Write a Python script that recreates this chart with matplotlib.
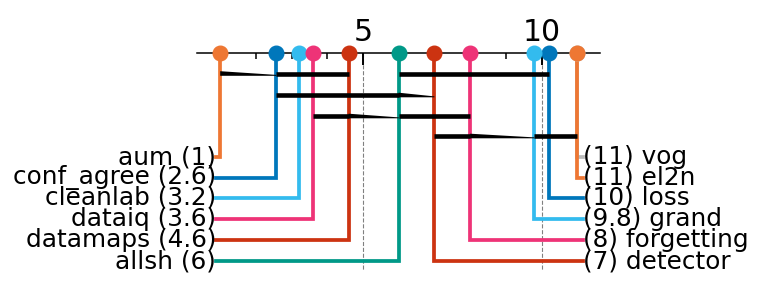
import matplotlib.pyplot as plt
from matplotlib.ticker import FixedLocator

# average ranks (lower = better)
left_names = ["aum", "conf_agree", "cleanlab", "dataiq", "datamaps", "allsh"]
left_ranks = [1.0, 2.57, 3.2, 3.6, 4.6, 6.0]
left_colors = ["#EE7733", "#0077BB", "#33BBEE", "#EE3377", "#CC3311", "#009988"]

right_names = ["vog", "el2n", "loss", "grand", "forgetting", "detector"]
right_ranks = [11.0, 11.0, 10.2, 9.8, 8.0, 7.0]
right_colors = ["#BBBBBB", "#EE7733", "#0077BB", "#33BBEE", "#EE3377", "#CC3311"]

# cliques: (low rank, high rank, bar level), plus the thin tapered stretches
cliques = [(2.57, 4.6, 73.5), (6.0, 10.2, 73.5), (2.57, 6.0, 95),
           (3.6, 4.6, 116), (6.0, 8.0, 116), (7.0, 8.0, 136), (9.8, 11.0, 136)]
thin_parts = [(1.0, 2.57, 73.5), (6.0, 7.0, 95), (4.6, 6.0, 116), (8.0, 9.8, 136)]

row_y = [157, 178, 198, 219, 240, 261]
axis_y = 53

fig = plt.figure(figsize=(7.6, 2.87), dpi=100)
ax = fig.add_axes([0, 0, 1, 1])
px = 35.7
ax.set_xlim(5 - 363 / px, 5 + 397 / px)
ax.set_ylim(287, 0)

for s in ["bottom", "left", "right"]:
    ax.spines[s].set_visible(False)
ax.spines["top"].set_position(("data", axis_y))
ax.spines["top"].set_bounds(0.35, 11.65)
ax.spines["top"].set_linewidth(1.1)
ax.xaxis.set_ticks_position("top")
ax.set_xticks([5, 10])
ax.xaxis.set_minor_locator(FixedLocator(list(range(1, 12))))
ax.tick_params(axis="x", which="major", direction="in", length=8.5, width=1.4,
               labelsize=21.5, pad=4)
ax.tick_params(axis="x", which="minor", direction="in", length=4, width=1.1)
ax.set_yticks([])

ax.vlines([5, 10], axis_y, 270, colors="grey", linestyles="--", lw=0.8, zorder=0)

hw = 2.3
for names, ranks, colors, side in [(left_names, left_ranks, left_colors, "L"),
                                   (right_names, right_ranks, right_colors, "R")]:
    for name, r, c, y in zip(names, ranks, colors, row_y):
        edge = (216 - 363) / px + 5 if side == "L" else (583 - 363) / px + 5
        ax.plot([r, r, edge], [axis_y, y, y], color=c, lw=2.7, zorder=2,
                solid_joinstyle="miter")
        ax.plot(r, axis_y, "o", color=c, ms=10.5, zorder=4)
        lab = f"{name} ({r:.2g})" if side == "L" else f"({r:.2g}) {name}"
        ha = "right" if side == "L" else "left"
        ax.text(edge, y, lab, ha=ha, va="center", fontsize=17.8)

for lo, hi, y in cliques:
    ax.plot([lo, hi], [y, y], color="black", lw=3.3, zorder=3,
            solid_capstyle="butt")
for lo, hi, y in thin_parts:
    ax.fill([lo, hi, hi, lo], [y - hw, y + hw - 0.9, y + hw, y + hw],
            color="black", lw=0, zorder=3)

fig.savefig("out.png", dpi=100)
